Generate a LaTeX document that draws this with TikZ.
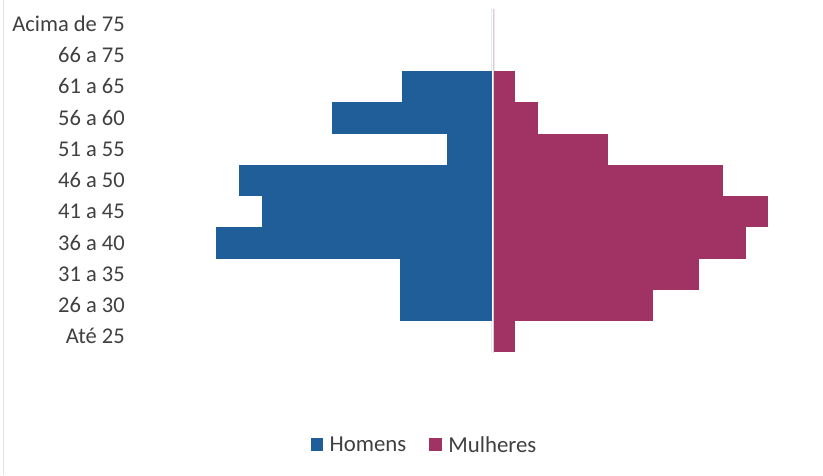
\documentclass[tikz,border=0pt]{standalone}
\usepackage{fontspec}
\setmainfont{Carlito}
\usetikzlibrary{positioning}

\definecolor{menblue}{RGB}{31,94,152}
\definecolor{womenpink}{RGB}{160,50,100}
\definecolor{labelgray}{RGB}{64,64,64}

\begin{document}
\begin{tikzpicture}[
    x=1pt, y=-1pt,
    node distance=6pt,
    lbl/.style={anchor=base east, inner sep=0pt, text=labelgray, font=\fontsize{22.5}{27}\selectfont},
    men/.style={fill=menblue},
    women/.style={fill=womenpink},
    legbox/.style={rectangle, minimum size=12.5pt, inner sep=0pt},
    legtext/.style={inner sep=0pt, text=labelgray, font=\fontsize{22.8}{27}\selectfont}
]

% Frame
\useasboundingbox (0,0) rectangle (823,475);
\fill[white] (0,0) rectangle (823,475);
\draw[gray!20] (3,0) -- (3,475);

% Axis
\coordinate (axtop) at (493,8.5);
\coordinate (axbot) at (493,352.5);
\draw[gray!35] (axtop) -- (axbot);

% Bars and labels (row height 31.27)
\foreach \lab/\m/\w [count=\i from 0] in {Acima de 75/0/0, 66 a 75/0/0, 61 a 65/90/21, 56 a 60/160/44, 51 a 55/45/114, 46 a 50/253/229, 41 a 45/230/274, 36 a 40/276/252, 31 a 35/92/205, 26 a 30/92/159, Até 25/0/21} {
    \pgfmathsetmacro{\ytop}{8.5+\i*31.27}
    \pgfmathsetmacro{\ybot}{\ytop+31.27}
    \fill[men] (491.7-\m,\ytop) rectangle (491.7,\ybot);
    \fill[women] (494.3,\ytop) rectangle (494.3+\w,\ybot);
    \node[lbl] (row\i) at (125,\ytop+22.7) {\lab};
}

% Legend
\node[legbox, fill=menblue] (legH) at (317,444.5) {};
\node[legtext, right=of legH] (txtH) {Homens};
\node[legbox, fill=womenpink] (legM) at (435.7,444.5) {};
\node[legtext, right=of legM] (txtM) {Mulheres};

\end{tikzpicture}
\end{document}
